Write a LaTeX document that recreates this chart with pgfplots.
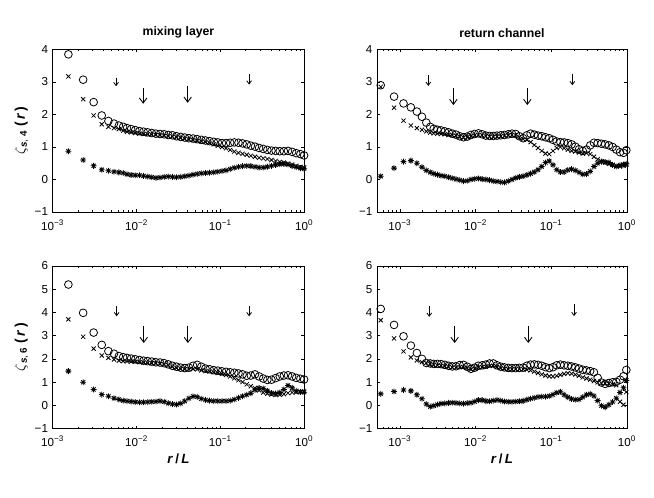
\documentclass[border=0pt]{standalone}
\usepackage{fontspec}
\setmainfont{Liberation Sans}
\usepackage{pgfplots}
\pgfplotsset{compat=1.18}
\usepackage{pgfplotstable}
\usetikzlibrary{arrows.meta}

\pgfdeclareplotmark{mstar}{%
  \pgfpathmoveto{\pgfqpoint{0pt}{\pgfplotmarksize}}%
  \pgfpathlineto{\pgfqpoint{0pt}{-\pgfplotmarksize}}%
  \pgfpathmoveto{\pgfqpoint{\pgfplotmarksize}{0pt}}%
  \pgfpathlineto{\pgfqpoint{-\pgfplotmarksize}{0pt}}%
  \pgfpathmoveto{\pgfqpoint{0.707\pgfplotmarksize}{0.707\pgfplotmarksize}}%
  \pgfpathlineto{\pgfqpoint{-0.707\pgfplotmarksize}{-0.707\pgfplotmarksize}}%
  \pgfpathmoveto{\pgfqpoint{-0.707\pgfplotmarksize}{0.707\pgfplotmarksize}}%
  \pgfpathlineto{\pgfqpoint{0.707\pgfplotmarksize}{-0.707\pgfplotmarksize}}%
  \pgfusepathqstroke}

\pgfplotstableread{
r o x s
1.54e-3 3.85 3.17 0.87
2.31e-3 3.07 2.47 0.60
3.08e-3 2.38 1.97 0.42
3.85e-3 1.97 1.70 0.30
4.62e-3 1.80 1.62 0.27
5.39e-3 1.72 1.58 0.24
6.16e-3 1.66 1.55 0.22
6.93e-3 1.62 1.50 0.20
7.7e-3 1.58 1.47 0.16
8.62e-3 1.55 1.45 0.14
9.66e-3 1.52 1.43 0.13
1.082e-2 1.49 1.41 0.13
1.212e-2 1.47 1.40 0.11
1.357e-2 1.45 1.39 0.09
1.52e-2 1.43 1.38 0.07
1.702e-2 1.41 1.37 0.05
1.907e-2 1.40 1.36 0.06
2.136e-2 1.39 1.35 0.08
2.392e-2 1.37 1.33 0.09
2.679e-2 1.36 1.32 0.08
3.0e-2 1.33 1.30 0.07
3.36e-2 1.31 1.28 0.08
3.764e-2 1.29 1.25 0.10
4.216e-2 1.27 1.23 0.12
4.722e-2 1.26 1.21 0.15
5.288e-2 1.24 1.19 0.17
5.923e-2 1.22 1.17 0.19
6.634e-2 1.20 1.15 0.20
7.43e-2 1.18 1.12 0.21
8.32e-2 1.16 1.08 0.22
9.32e-2 1.14 1.04 0.24
0.1044 1.12 1.00 0.26
0.1169 1.12 0.96 0.28
0.1309 1.13 0.91 0.32
0.1466 1.14 0.86 0.36
0.1642 1.13 0.82 0.39
0.1839 1.11 0.79 0.41
0.206 1.08 0.76 0.42
0.2307 1.04 0.73 0.41
0.2584 1.01 0.70 0.39
0.2894 0.97 0.67 0.37
0.3241 0.94 0.65 0.37
0.363 0.91 0.63 0.39
0.4066 0.89 0.60 0.42
0.4554 0.88 0.57 0.45
0.51 0.87 0.54 0.47
0.5712 0.87 0.52 0.48
0.6398 0.88 0.49 0.46
0.7165 0.85 0.46 0.42
0.8025 0.81 0.42 0.38
0.8988 0.78 0.39 0.35
0.995 0.74 0.37 0.33
}\TLtab

\pgfplotstableread{
r o x s
1.54e-3 5.20 3.70 1.47
2.31e-3 3.98 2.95 0.99
3.08e-3 3.13 2.44 0.68
3.85e-3 2.60 2.14 0.46
4.62e-3 2.33 2.04 0.39
5.39e-3 2.22 1.97 0.30
6.16e-3 2.12 1.92 0.25
6.93e-3 2.07 1.90 0.20
7.7e-3 2.04 1.89 0.18
8.62e-3 2.01 1.88 0.16
9.66e-3 1.98 1.87 0.14
1.082e-2 1.95 1.86 0.13
1.212e-2 1.92 1.84 0.13
1.357e-2 1.90 1.82 0.14
1.52e-2 1.88 1.81 0.15
1.702e-2 1.85 1.80 0.16
1.907e-2 1.84 1.78 0.18
2.136e-2 1.81 1.76 0.15
2.392e-2 1.76 1.72 0.09
2.679e-2 1.70 1.66 0.05
3.0e-2 1.66 1.60 0.03
3.36e-2 1.62 1.57 0.08
3.764e-2 1.60 1.55 0.18
4.216e-2 1.62 1.55 0.30
4.722e-2 1.70 1.56 0.38
5.288e-2 1.74 1.55 0.36
5.923e-2 1.66 1.50 0.28
6.634e-2 1.58 1.47 0.23
7.43e-2 1.55 1.45 0.20
8.32e-2 1.51 1.42 0.18
9.32e-2 1.49 1.39 0.18
0.1044 1.46 1.35 0.18
0.1169 1.44 1.30 0.18
0.1309 1.42 1.24 0.20
0.1466 1.40 1.16 0.25
0.1642 1.37 1.08 0.32
0.1839 1.33 1.00 0.39
0.206 1.27 0.90 0.45
0.2307 1.28 0.82 0.52
0.2584 1.33 0.74 0.66
0.2894 1.24 0.64 0.74
0.3241 1.15 0.55 0.72
0.363 1.09 0.50 0.62
0.4066 1.10 0.46 0.53
0.4554 1.17 0.44 0.50
0.51 1.24 0.45 0.55
0.5712 1.28 0.48 0.68
0.6398 1.29 0.52 0.85
0.7165 1.24 0.55 0.75
0.8025 1.18 0.56 0.62
0.8988 1.14 0.58 0.57
0.995 1.11 0.60 0.56
}\BLtab

\pgfplotstableread{
r o x s
5.6e-4 2.90 2.85 0.10
8.4e-4 2.55 2.21 0.35
1.12e-3 2.34 1.81 0.55
1.40e-3 2.22 1.66 0.58
1.68e-3 2.09 1.58 0.50
1.96e-3 1.93 1.53 0.38
2.24e-3 1.75 1.48 0.28
2.52e-3 1.62 1.44 0.22
2.80e-3 1.56 1.42 0.18
3.14e-3 1.53 1.41 0.15
3.51e-3 1.51 1.40 0.12
3.93e-3 1.48 1.39 0.10
4.41e-3 1.45 1.37 0.07
4.94e-3 1.41 1.36 0.04
5.53e-3 1.38 1.34 0.01
6.19e-3 1.33 1.31 -0.02
6.93e-3 1.30 1.29 -0.05
7.77e-3 1.32 1.30 -0.04
8.70e-3 1.37 1.33 0.00
9.74e-3 1.40 1.36 0.02
1.091e-2 1.42 1.37 0.03
1.222e-2 1.39 1.36 0.01
1.369e-2 1.35 1.33 0.00
1.533e-2 1.34 1.32 -0.02
1.717e-2 1.34 1.31 -0.05
1.923e-2 1.35 1.32 -0.06
2.154e-2 1.36 1.33 -0.08
2.412e-2 1.37 1.34 -0.09
2.702e-2 1.39 1.36 -0.05
3.026e-2 1.41 1.37 0.00
3.389e-2 1.40 1.36 0.05
3.796e-2 1.33 1.30 0.08
4.252e-2 1.27 1.24 0.10
4.762e-2 1.36 1.22 0.14
5.333e-2 1.41 1.15 0.18
5.973e-2 1.38 1.06 0.23
6.690e-2 1.35 0.97 0.30
7.493e-2 1.33 0.88 0.40
8.392e-2 1.30 0.80 0.52
9.40e-2 1.27 0.78 0.57
0.1053 1.22 0.88 0.45
0.1179 1.17 0.97 0.30
0.1320 1.15 1.00 0.23
0.1479 1.14 0.96 0.23
0.1656 1.12 0.92 0.29
0.1855 1.08 0.88 0.32
0.2078 1.01 0.86 0.28
0.2327 0.93 0.83 0.22
0.2606 0.88 0.80 0.16
0.2919 0.92 0.81 0.17
0.3269 1.05 0.78 0.25
0.3662 1.13 0.70 0.40
0.4101 1.12 0.62 0.50
0.4593 1.10 0.56 0.55
0.5145 1.08 0.52 0.54
0.5762 1.05 0.48 0.52
0.6454 1.00 0.45 0.45
0.7228 0.92 0.42 0.40
0.8096 0.84 0.40 0.44
0.90 0.82 0.42 0.46
0.98 0.90 0.45 0.48
}\TRtab

\pgfplotstableread{
r o x s
5.6e-4 4.15 3.66 0.49
8.4e-4 3.46 2.88 0.59
1.12e-3 2.97 2.32 0.66
1.40e-3 2.57 2.06 0.62
1.68e-3 2.25 1.93 0.45
1.96e-3 2.00 1.86 0.28
2.24e-3 1.82 1.82 0.05
2.52e-3 1.80 1.78 -0.06
2.80e-3 1.78 1.74 -0.02
3.14e-3 1.78 1.72 0.03
3.51e-3 1.77 1.70 0.07
3.93e-3 1.74 1.68 0.08
4.41e-3 1.70 1.65 0.10
4.94e-3 1.67 1.63 0.11
5.53e-3 1.68 1.62 0.10
6.19e-3 1.73 1.64 0.08
6.93e-3 1.74 1.65 0.07
7.77e-3 1.66 1.60 0.09
8.70e-3 1.57 1.54 0.11
9.74e-3 1.62 1.57 0.16
1.091e-2 1.70 1.63 0.22
1.222e-2 1.72 1.64 0.22
1.369e-2 1.75 1.66 0.18
1.533e-2 1.80 1.69 0.17
1.717e-2 1.80 1.70 0.20
1.923e-2 1.72 1.65 0.23
2.154e-2 1.66 1.60 0.20
2.412e-2 1.63 1.57 0.16
2.702e-2 1.61 1.55 0.15
3.026e-2 1.60 1.55 0.15
3.389e-2 1.60 1.56 0.16
3.796e-2 1.61 1.56 0.17
4.252e-2 1.62 1.55 0.19
4.762e-2 1.70 1.53 0.24
5.333e-2 1.75 1.50 0.28
5.973e-2 1.76 1.45 0.32
6.690e-2 1.74 1.39 0.36
7.493e-2 1.70 1.33 0.37
8.392e-2 1.64 1.28 0.37
9.40e-2 1.60 1.25 0.40
0.1053 1.64 1.24 0.46
0.1179 1.72 1.27 0.54
0.1320 1.75 1.31 0.58
0.1479 1.72 1.35 0.45
0.1656 1.70 1.38 0.35
0.1855 1.67 1.36 0.27
0.2078 1.63 1.32 0.24
0.2327 1.58 1.27 0.25
0.2606 1.53 1.20 0.35
0.2919 1.50 1.15 0.45
0.3269 1.47 1.10 0.49
0.3662 1.42 1.04 0.40
0.4101 1.18 0.98 0.20
0.4593 0.98 0.95 -0.02
0.5145 0.92 0.95 -0.08
0.5762 0.96 0.93 0.02
0.6454 0.99 0.90 0.14
0.7228 1.01 0.86 0.30
0.8096 1.10 0.15 0.55
0.90 1.25 0.02 0.75
0.98 1.52 0.57 1.07
}\BRtab

\pgfplotsset{
  mypanel/.style={
    scale only axis, clip=false, xmax=1,
    xtick={1e-3,1e-2,1e-1,1},
    xticklabels={10\textsuperscript{−3},10\textsuperscript{−2},10\textsuperscript{−1},10\textsuperscript{0}},
    tick style={black, line width=0.4pt},
    major tick length=2.2pt, minor tick length=1.2pt,
    tick align=inside,
    ticklabel style={font=\fontsize{8.7}{10}\selectfont},
    xticklabel style={yshift=-2.2pt},
    axis line style={line width=0.5pt},
    title style={font=\fontsize{9.2}{11}\selectfont\bfseries, yshift=-1pt},
    xlabel style={font=\fontsize{10}{12}\selectfont, yshift=2pt},
    ylabel style={font=\fontsize{10.5}{12}\selectfont, yshift=-2pt},
  },
  myleft/.style={xmin=1e-3, width=188.7pt,
    minor xtick={2e-3,3e-3,4e-3,5e-3,6e-3,7e-3,8e-3,9e-3,2e-2,3e-2,4e-2,5e-2,6e-2,7e-2,8e-2,9e-2,0.2,0.3,0.4,0.5,0.6,0.7,0.8,0.9}},
  myright/.style={xmin=5e-4, width=187.5pt,
    minor xtick={6e-4,7e-4,8e-4,9e-4,2e-3,3e-3,4e-3,5e-3,6e-3,7e-3,8e-3,9e-3,2e-2,3e-2,4e-2,5e-2,6e-2,7e-2,8e-2,9e-2,0.2,0.3,0.4,0.5,0.6,0.7,0.8,0.9}},
  mytop/.style={height=121.9pt, ymin=-1, ymax=4, ytick={-1,0,1,2,3,4},
    yticklabels={−1,0,1,2,3,4}},
  mybot/.style={height=121.9pt, ymin=-1, ymax=6, ytick={-1,0,1,2,3,4,5,6},
    yticklabels={−1,0,1,2,3,4,5,6}},
  mycirc/.style={only marks, black, mark=o, mark size=2.9pt, mark options={line width=0.6pt}},
  mycrs/.style={only marks, black, mark=x, mark size=2.2pt, mark options={line width=0.6pt}},
  myast/.style={only marks, black, mark=mstar, mark size=2.2pt, mark options={line width=0.6pt}},
  mysarr/.style={black, no marks, line width=0.6pt, -{Straight Barb[length=2.4pt,width=3.6pt]}},
  mylarr/.style={black, no marks, line width=0.65pt, -{Straight Barb[length=3.8pt,width=5.6pt]}},
}

\newcommand{\zlab}[1]{$\zeta$\textsubscript{\textbf{\textit{s}}, \textbf{#1}}\;\textbf{(\,\textit{r}\,)}}

\begin{document}
\begin{tikzpicture}
\path[use as bounding box] (0,0) rectangle (490.5pt,372.75pt);

\begin{semilogxaxis}[mypanel, myleft, mytop, at={(39.5pt,213.75pt)}, anchor=south west,
  title={mixing layer}, ylabel={\zlab{4}}]
\addplot[mycirc] table[x=r,y=o] {\TLtab};
\addplot[mycrs] table[x=r,y=x] {\TLtab};
\addplot[myast] table[x=r,y=s] {\TLtab};
\addplot[mysarr] coordinates {(5.7e-3,3.13) (5.7e-3,2.87)};
\addplot[mysarr] coordinates {(0.22,3.25) (0.22,2.92)};
\addplot[mylarr] coordinates {(1.2e-2,2.82) (1.2e-2,2.33)};
\addplot[mylarr] coordinates {(4.07e-2,2.87) (4.07e-2,2.36)};
\end{semilogxaxis}

\begin{semilogxaxis}[mypanel, myright, mytop, at={(282.75pt,213.75pt)}, anchor=south west,
  title={return channel}]
\addplot[mycirc] table[x=r,y=o] {\TRtab};
\addplot[mycrs] table[x=r,y=x] {\TRtab};
\addplot[myast] table[x=r,y=s] {\TRtab};
\addplot[mysarr] coordinates {(2.38e-3,3.21) (2.38e-3,2.88)};
\addplot[mysarr] coordinates {(0.19,3.26) (0.19,2.90)};
\addplot[mylarr] coordinates {(5.1e-3,2.80) (5.1e-3,2.29)};
\addplot[mylarr] coordinates {(4.83e-2,2.80) (4.83e-2,2.29)};
\end{semilogxaxis}

\begin{semilogxaxis}[mypanel, myleft, mybot, at={(39.5pt,51.4pt)}, anchor=south west,
  xlabel={\textbf{\textit{r}\,/\,\textit{L}}}, ylabel={\zlab{6}}]
\addplot[mycirc] table[x=r,y=o] {\BLtab};
\addplot[mycrs] table[x=r,y=x] {\BLtab};
\addplot[myast] table[x=r,y=s] {\BLtab};
\addplot[mysarr] coordinates {(5.8e-3,4.28) (5.8e-3,3.83)};
\addplot[mysarr] coordinates {(0.22,4.28) (0.22,3.83)};
\addplot[mylarr] coordinates {(1.22e-2,3.42) (1.22e-2,2.68)};
\addplot[mylarr] coordinates {(4.1e-2,3.42) (4.1e-2,2.68)};
\end{semilogxaxis}

\begin{semilogxaxis}[mypanel, myright, mybot, at={(282.75pt,51.4pt)}, anchor=south west,
  xlabel={\textbf{\textit{r}\,/\,\textit{L}}}]
\addplot[mycirc] table[x=r,y=o] {\BRtab};
\addplot[mycrs] table[x=r,y=x] {\BRtab};
\addplot[myast] table[x=r,y=s] {\BRtab};
\addplot[mysarr] coordinates {(2.45e-3,4.27) (2.45e-3,3.81)};
\addplot[mysarr] coordinates {(0.2,4.34) (0.2,3.84)};
\addplot[mylarr] coordinates {(5.3e-3,3.40) (5.3e-3,2.68)};
\addplot[mylarr] coordinates {(4.97e-2,3.40) (4.97e-2,2.68)};
\end{semilogxaxis}
\end{tikzpicture}
\end{document}
